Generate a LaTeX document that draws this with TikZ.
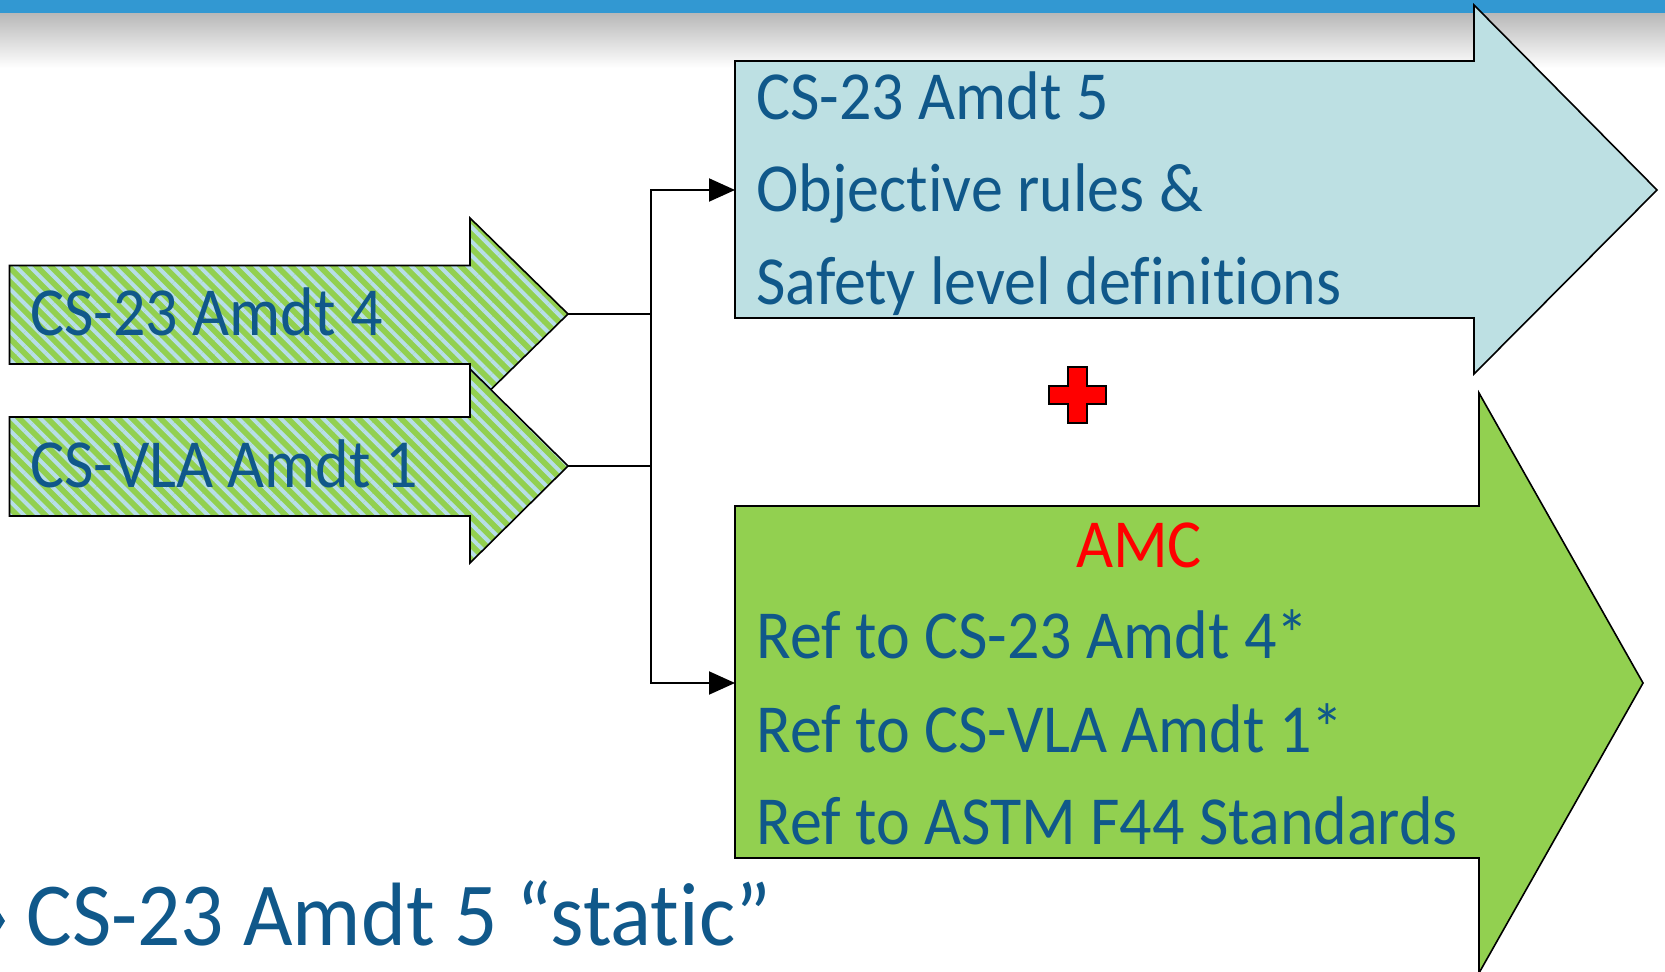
\documentclass[tikz,border=0pt]{standalone}
\usepackage{fontspec}
\setmainfont{Carlito}[FakeStretch=0.93,Ligatures=NoCommon]
\newfontfamily\bigfont{Carlito}[FakeStretch=0.95,Ligatures=NoCommon]
\usetikzlibrary{patterns.meta,arrows.meta}
\definecolor{barblue}{RGB}{50,152,210}
\definecolor{txtblue}{RGB}{16,88,138}
\definecolor{lblue}{RGB}{189,224,227}
\definecolor{lgreen}{RGB}{146,208,80}
\definecolor{hatchblue}{RGB}{183,222,232}
\begin{document}
\begin{tikzpicture}[x=0.5pt,y=-0.5pt,
  outline/.style={draw=black,line width=0.8pt},
  hatched/.style={outline,preaction={fill=lgreen},
    preaction={pattern={Lines[angle=-45,distance=5pt,line width=2pt]},pattern color=hatchblue}},
  txt/.style={text=txtblue,font=\fontsize{34.4}{40}\selectfont,inner sep=0pt,anchor=base west},
  bigtxt/.style={text=txtblue,font=\bigfont\fontsize{45}{52}\selectfont,inner sep=0pt,anchor=base west},
  conn/.style={line width=1pt,draw=black},
  tip/.style={-{Triangle[length=13pt,width=11.5pt]}}]
\useasboundingbox (0,0) rectangle (1665,972);
\clip (0,0) rectangle (1665,972);
% header bar and shadow
\shade[top color=black!28,bottom color=white] (0,13) rectangle (1665,68);
\fill[barblue] (0,0) rectangle (1665,13);
% left hatched arrows
\path[hatched] (9.5,265.5) -- (470,265.5) -- (470,218) -- (568,314) -- (470,410) -- (470,364) -- (9.5,364) -- cycle;
\path[hatched] (9.5,417) -- (470,417) -- (470,369) -- (568,466) -- (470,563) -- (470,516) -- (9.5,516) -- cycle;
\node[txt] (cs23a4) at (30,335.5) {CS-23 Amdt 4};
\node[txt] (csvla) at (30,488) {CS-VLA Amdt 1};
% right arrows
\path[outline,fill=lblue] (735,61) -- (1474,61) -- (1474,5) -- (1657,190) -- (1474,374) -- (1474,318) -- (735,318) -- cycle;
\path[outline,fill=lgreen] (735,506) -- (1479,506) -- (1479,393) -- (1643,683) -- (1479,973) -- (1479,858) -- (735,858) -- cycle;
\node[txt] (t1) at (756,120) {CS-23 Amdt 5};
\node[txt] (t2) at (756,212) {Objective rules \&};
\node[txt] (t3) at (756,305) {Safety level definitions};
\node[txt,anchor=base,text=red] (amc) at (1139,568) {AMC};
\node[txt] (b1) at (756,659) {Ref to CS-23 Amdt 4*};
\node[txt] (b2) at (756,752) {Ref to CS-VLA Amdt 1*};
\node[txt] (b3) at (756,844) {Ref to ASTM F44 Standards};
% plus sign
\path[outline,fill=red,line width=1pt] (1068,367) -- (1087,367) -- (1087,386) -- (1106,386) -- (1106,404) -- (1087,404) -- (1087,423) -- (1068,423) -- (1068,404) -- (1049,404) -- (1049,386) -- (1068,386) -- cycle;
% connectors
\coordinate (a1) at (568,314);
\coordinate (a2) at (568,466);
\coordinate (j1) at (651,314);
\coordinate (j2) at (651,466);
\coordinate (ta) at (735,190);
\coordinate (ba) at (735,683);
\draw[conn] (a1) -- (j1);
\draw[conn] (a2) -- (j2);
\draw[conn] (j1) -- (j2);
\draw[conn,tip] (j1) |- (ta);
\draw[conn,tip] (j2) |- (ba);
% bottom text
\fill[txtblue] (0,913) -- (5,921) -- (0,929) -- cycle;
\node[bigtxt] (static) at (26.5,945) {CS-23 Amdt 5 “static”};
\end{tikzpicture}
\end{document}
